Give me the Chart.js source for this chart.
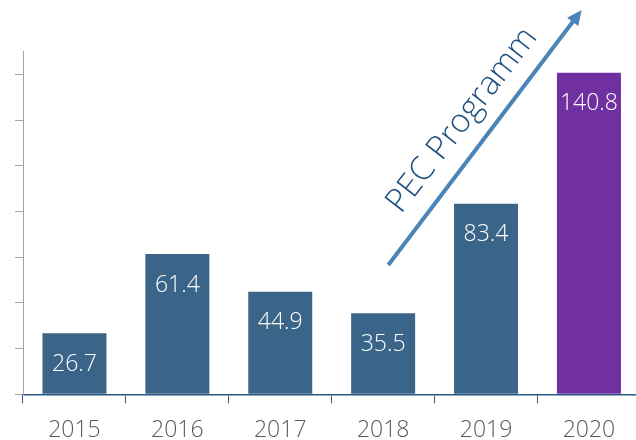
<!DOCTYPE html>
<html>
<head>
<meta charset="utf-8">
<script src="https://cdn.jsdelivr.net/npm/chart.js@4.4.1/dist/chart.umd.min.js"></script>
<style>
    html, body { margin: 0; padding: 0; background: #fff; overflow: hidden; }
    #wrap { width: 642px; height: 440px; }
</style>
</head>
<body>
<div id="wrap"><canvas id="barChart"></canvas></div>
<script>
/*** Data ***/
const years = ['2015', '2016', '2017', '2018', '2019', '2020'];
const values = [26.7, 61.4, 44.9, 35.5, 83.4, 140.8];
const barColors = ['#3a6589', '#3a6589', '#3a6589', '#3a6589', '#3a6589', '#7030a0'];

/*** Arrow annotation (category index / value units) ***/
const arrowLabel = 'PEC Programm';
const arrowFrom = [3.05, 56.6];
const arrowTo = [4.93, 168.3];
const arrowTextAt = [3.84, 117.5];

const fontFamily = '"Open Sans", "Liberation Sans", sans-serif';

/*** Plugins ***/
const valueLabels = {
    id: 'valueLabels',
    afterDatasetsDraw(chart) {
        const ctx = chart.ctx;
        const meta = chart.getDatasetMeta(0);
        ctx.save();
        ctx.fillStyle = '#ffffff';
        ctx.font = '300 23px ' + fontFamily;
        ctx.textAlign = 'center';
        ctx.textBaseline = 'middle';
        meta.data.forEach(function (bar, i) {
            ctx.fillText(values[i].toFixed(1), bar.x, bar.y + 31);
        });
        ctx.restore();
    }
};

const trendArrow = {
    id: 'trendArrow',
    afterDraw(chart) {
        const ctx = chart.ctx;
        const x = chart.scales.x, y = chart.scales.y;
        const x1 = x.getPixelForValue(arrowFrom[0]), y1 = y.getPixelForValue(arrowFrom[1]);
        const x2 = x.getPixelForValue(arrowTo[0]), y2 = y.getPixelForValue(arrowTo[1]);
        const angle = Math.atan2(y2 - y1, x2 - x1);
        const head = 15;

        ctx.save();
        ctx.strokeStyle = '#4a85b8';
        ctx.fillStyle = '#4a85b8';
        ctx.lineWidth = 4;
        ctx.beginPath();
        ctx.moveTo(x1, y1);
        ctx.lineTo(x2 - Math.cos(angle) * head * 0.8, y2 - Math.sin(angle) * head * 0.8);
        ctx.stroke();

        ctx.beginPath();
        ctx.moveTo(x2, y2);
        ctx.lineTo(x2 - head * Math.cos(angle) + 7 * Math.sin(angle), y2 - head * Math.sin(angle) - 7 * Math.cos(angle));
        ctx.lineTo(x2 - head * Math.cos(angle) - 7 * Math.sin(angle), y2 - head * Math.sin(angle) + 7 * Math.cos(angle));
        ctx.closePath();
        ctx.fill();

        // rotated caption
        ctx.translate(x.getPixelForValue(arrowTextAt[0]), y.getPixelForValue(arrowTextAt[1]));
        ctx.rotate(angle + 0.01);
        ctx.fillStyle = '#1f5080';
        ctx.font = '300 33px ' + fontFamily;
        ctx.textAlign = 'center';
        ctx.textBaseline = 'alphabetic';
        ctx.fillText(arrowLabel, 0, 0);
        ctx.restore();
    }
};

/*** Chart ***/
const barChart = new Chart(document.getElementById('barChart'), {
    type: 'bar',
    data: {
        labels: years,
        datasets: [
            {
                data: values,
                backgroundColor: barColors,
                borderColor: barColors,
                borderWidth: 0,
                barPercentage: 0.622,
                categoryPercentage: 1
            }
        ]
    },
    options: {
        responsive: true,
        maintainAspectRatio: false,
        animation: false,
        layout: {
            padding: { top: 51.7, left: 15, right: 1.6, bottom: 0 }
        },
        plugins: {
            legend: { display: false },
            tooltip: { enabled: false }
        },
        scales: {
            x: {
                offset: true,
                grid: {
                    offset: true,
                    drawOnChartArea: false,
                    tickLength: 9,
                    color: '#2a5a84'
                },
                border: { color: '#2a5a84', width: 1.5 },
                ticks: {
                    color: '#595959',
                    padding: 13,
                    font: { family: fontFamily, size: 23, weight: 300 }
                },
                afterFit: function (scale) { scale.height = 45.7; }
            },
            y: {
                min: 0,
                max: 150,
                grid: {
                    drawOnChartArea: false,
                    tickLength: 8,
                    color: '#a6a6a6'
                },
                border: { color: '#a6a6a6', width: 1 },
                ticks: { stepSize: 20, display: false },
                afterBuildTicks: function (scale) {
                    scale.ticks = scale.ticks.filter(function (t) { return t.value <= 140; });
                },
                afterFit: function (scale) { scale.width = 8; }
            }
        }
    },
    plugins: [valueLabels, trendArrow]
});
</script>
</body>
</html>
